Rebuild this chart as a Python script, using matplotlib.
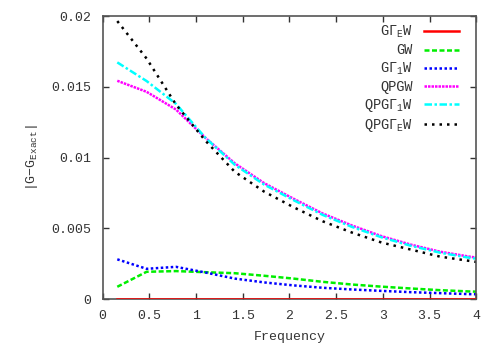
import numpy as np
import matplotlib
matplotlib.use("Agg")
import matplotlib.pyplot as plt

# Matsubara frequencies (2n+1)*pi/20
freq = [0.157, 0.471, 0.785, 1.100, 1.414, 1.728, 2.042, 2.356, 2.670, 2.985, 3.299, 3.613, 3.927, 4.241]

g_gamma_e_w = [0.0] * 14
gw = [0.00087, 0.00193, 0.00198, 0.00190, 0.00183, 0.00165, 0.00145, 0.00122, 0.00103, 0.00088, 0.00075, 0.00063, 0.00054, 0.00048]
g_gamma_1_w = [0.00281, 0.00214, 0.00228, 0.00188, 0.00145, 0.00118, 0.00097, 0.00080, 0.00068, 0.00058, 0.00049, 0.00042, 0.00035, 0.00031]
qpgw = [0.01543, 0.01465, 0.01340, 0.01140, 0.00960, 0.00820, 0.00710, 0.00605, 0.00520, 0.00445, 0.00385, 0.00335, 0.00300, 0.00272]
qpg_gamma_1_w = [0.01673, 0.01541, 0.01380, 0.01140, 0.00950, 0.00810, 0.00700, 0.00595, 0.00510, 0.00437, 0.00377, 0.00328, 0.00292, 0.00265]
qpg_gamma_e_w = [0.01965, 0.01700, 0.01375, 0.01120, 0.00900, 0.00760, 0.00650, 0.00550, 0.00470, 0.00400, 0.00350, 0.00300, 0.00270, 0.00240]

xticks = [0, 0.5, 1, 1.5, 2, 2.5, 3, 3.5, 4]
xtick_labels = ["0", "0.5", "1", "1.5", "2", "2.5", "3", "3.5", "4"]
yticks = [0, 0.005, 0.01, 0.015, 0.02]
ytick_labels = ["0", "0.005", "0.01", "0.015", "0.02"]

plt.rcParams['font.family'] = ['Liberation Mono', 'DejaVu Sans']
plt.rcParams['mathtext.fontset'] = 'custom'
plt.rcParams['mathtext.rm'] = 'Liberation Mono'
plt.rcParams['mathtext.it'] = 'Liberation Mono'
plt.rcParams['mathtext.default'] = 'rm'

fig = plt.figure(figsize=(4.91, 3.43), dpi=100)
ax = fig.add_axes([0.209, 0.128, 0.761, 0.825])

ax.plot(freq, g_gamma_e_w, color='#ff0000', lw=1.8, ls='-', label=r'G$\Gamma_{E}$W', zorder=3)
ax.plot(freq, gw, color='#00ee00', lw=1.8, ls=(0, (2, 1)), label='GW')
ax.plot(freq, g_gamma_1_w, color='#0000ff', lw=1.8, ls=(0, (1, 1)), label=r'G$\Gamma_{1}$W')
ax.plot(freq, qpgw, color='#ff00ff', lw=1.8, ls=(0, (1, 0.4)), label='QPGW')
ax.plot(freq, qpg_gamma_1_w, color='#00ffff', lw=1.8, ls=(0, (3, 1, 1, 1)), label=r'QPG$\Gamma_{1}$W')
ax.plot(freq, qpg_gamma_e_w, color='#000000', lw=1.8, ls=(0, (1, 2)), label=r'QPG$\Gamma_{E}$W')

ax.set_xlim(0, 4)
ax.set_ylim(0, 0.02)
ax.set_xticks(xticks)
ax.set_xticklabels(xtick_labels)
ax.set_yticks(yticks)
ax.set_yticklabels(ytick_labels)
ax.tick_params(direction='in', length=4, width=1, top=True, right=True,
               labelsize=9.5, colors='#333333', pad=8)
for s in ax.spines.values():
    s.set_color('#555555')
    s.set_linewidth(1.2)

ax.set_xlabel('Frequency', fontsize=9.5, color='#333333', labelpad=6)
ax.set_ylabel(r'|G$-$G$_{Exact}$|', fontsize=9.5, color='#333333', labelpad=8)

leg = ax.legend(loc='upper right', frameon=False, markerfirst=False, fontsize=9.8,
                handlelength=2.6, labelspacing=0.22, borderaxespad=0.6,
                bbox_to_anchor=(0.99, 1.02))
for t in leg.get_texts():
    t.set_color('#333333')

fig.savefig('out.png', dpi=100)
